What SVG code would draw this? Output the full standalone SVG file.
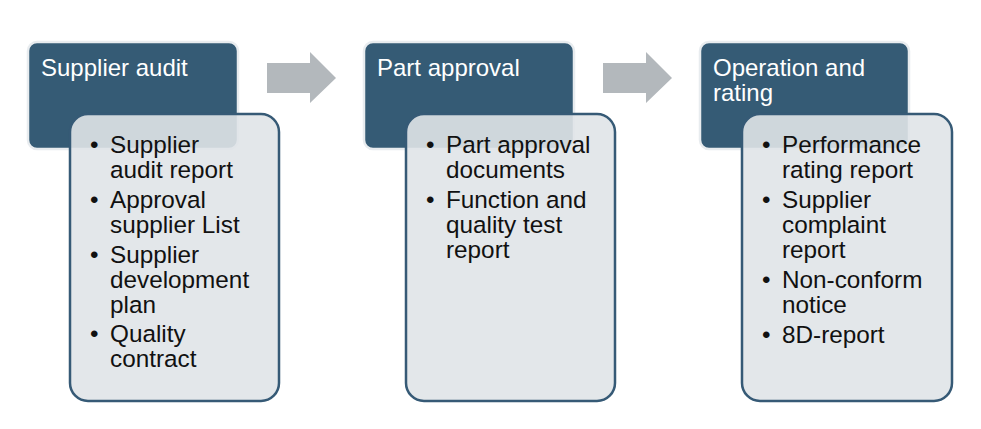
<svg xmlns="http://www.w3.org/2000/svg" width="981" height="429" viewBox="0 0 981 429">
<style>
.hd{fill:#355b75;stroke:#e8ecef;stroke-width:2.5}
.bd{fill:#e0e4e8;fill-opacity:0.9;stroke:#365a76;stroke-width:2.5}
.ar{fill:#b3b8bc}
.t{font-family:"Liberation Sans",Arial,sans-serif;font-size:24px;fill:#ffffff}
.b{font-family:"Liberation Sans",Arial,sans-serif;font-size:24.3px;fill:#111111}
</style>
<rect width="981" height="429" fill="#ffffff"/>
<g id="connectors">
<polygon class="ar" points="267,63 310,63 310,52 336,78 310,103 310,93 267,93"/>
<polygon class="ar" points="603,63 646,63 646,52 672,78 646,103 646,93 603,93"/>
</g>
<g id="node-supplier-audit">
<rect class="hd" x="28" y="42" width="210" height="107" rx="9"/>
<text class="t" x="41" y="76">Supplier audit</text>
<rect class="bd" x="70" y="114" width="209" height="287" rx="18"/>
<g class="b">
<text x="90" y="153">•</text><text x="110" y="153">Supplier</text>
<text x="110" y="178">audit report</text>
<text x="90" y="208">•</text><text x="110" y="208">Approval</text>
<text x="110" y="233">supplier List</text>
<text x="90" y="263">•</text><text x="110" y="263">Supplier</text>
<text x="110" y="288">development</text>
<text x="110" y="313">plan</text>
<text x="90" y="342">•</text><text x="110" y="342">Quality</text>
<text x="110" y="367">contract</text>
</g>
</g>
<g id="node-part-approval">
<rect class="hd" x="364" y="42" width="210" height="107" rx="9"/>
<text class="t" x="377" y="76">Part approval</text>
<rect class="bd" x="406" y="114" width="209" height="287" rx="18"/>
<g class="b">
<text x="426" y="153">•</text><text x="446" y="153">Part approval</text>
<text x="446" y="178">documents</text>
<text x="426" y="208">•</text><text x="446" y="208">Function and</text>
<text x="446" y="233">quality test</text>
<text x="446" y="258">report</text>
</g>
</g>
<g id="node-operation-rating">
<rect class="hd" x="700" y="42" width="209" height="107" rx="9"/>
<text class="t" x="713" y="76">Operation and</text>
<text class="t" x="713" y="101">rating</text>
<rect class="bd" x="742" y="114" width="210" height="287" rx="18"/>
<g class="b">
<text x="762" y="153">•</text><text x="782" y="153">Performance</text>
<text x="782" y="178">rating report</text>
<text x="762" y="208">•</text><text x="782" y="208">Supplier</text>
<text x="782" y="233">complaint</text>
<text x="782" y="258">report</text>
<text x="762" y="288">•</text><text x="782" y="288">Non-conform</text>
<text x="782" y="313">notice</text>
<text x="762" y="343">•</text><text x="782" y="343">8D-report</text>
</g>
</g>
</svg>
